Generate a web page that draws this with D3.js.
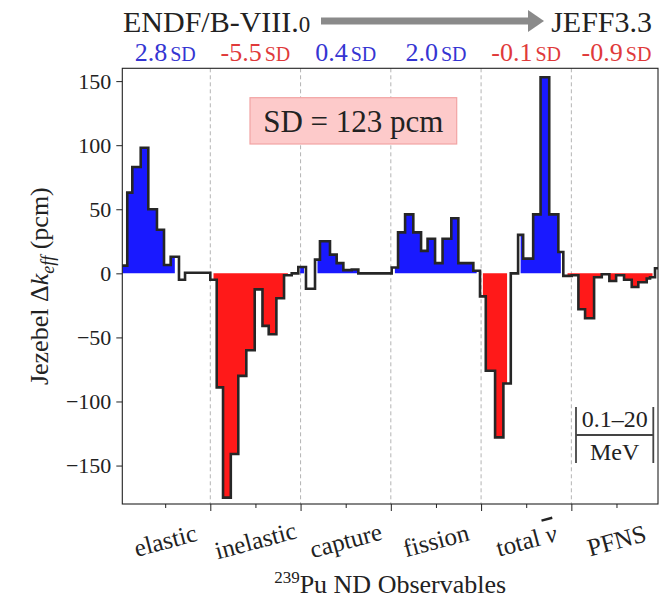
<!DOCTYPE html>
<html>
<head>
<meta charset="utf-8">
<script src="https://cdn.jsdelivr.net/npm/d3@7"></script>
<style>
	body { margin: 0; background: #fff; }
</style>
</head>
<body>
<script>
	'use strict';

	// one x unit per observable
	var observables = ["elastic", "inelastic", "capture", "fission", "total", "PFNS"];
	var sdValues = [2.8, -5.5, 0.4, 2.0, -0.1, -0.9];
	var sdText = ["2.8", "-5.5", "0.4", "2.0", "-0.1", "-0.9"];
	var sdPcm = 123;
	var yTicks = [-150, -100, -50, 0, 50, 100, 150];

	// bin left edges (x units), last entry is the right edge of the final bin
	var binEdges = [
		-0.034, 0.080, 0.136, 0.229, 0.313, 0.409, 0.487, 0.561, 0.653, 0.720,                 // elastic
		1.000, 1.071, 1.141, 1.227, 1.310, 1.399, 1.492, 1.578, 1.647, 1.732, 1.817, 1.902,     // inelastic
		1.975, 2.016, 2.060, 2.160, 2.215, 2.326, 2.400, 2.474, 2.567, 2.615, 2.640,             // capture
		3.010, 3.080, 3.158, 3.249, 3.335, 3.407, 3.490, 3.573, 3.670, 3.748, 3.914,             // fission
		3.988, 4.052, 4.155, 4.247, 4.329, 4.410, 4.466, 4.577, 4.659, 4.755, 4.856, 4.911,      // total nu
		5.004, 5.078, 5.152, 5.252, 5.337, 5.421, 5.496, 5.584, 5.669, 5.742, 5.835, 5.872, 5.927, // PFNS
		5.990
	];
	// delta k_eff per bin (pcm)
	var binValues = [
		6, 63, 83, 98, 50, 34, 6.5, 13, -5, 0.5,
		-5, -89, -175, -141, -80, -60, -12.5, -41, -47.5, -19.5, -1.5, 0,
		5, 5, -12, 10.7, 25, 14.6, 8, 2.5, 3, 3, 0,
		4.5, 32, 46, 32, 17.5, 27, 8, 27, 43, 8, 2,
		-18, -76, -128, -86, 0, 30, 11.5, 46, 153, 46, 16.7, -2,
		-1.5, -28, -35, -3, -0.7, -6, -1.5, -5, -10.7, -7, -4, -3, 4
	];

	var FONT = "'Liberation Serif', serif";
	var W = 662, H = 599;
	var margin = { top: 68.3, right: 4, bottom: 95, left: 122.3 },
		width = W - margin.left - margin.right,
		height = H - margin.top - margin.bottom;

	var svg = d3.select("body").append("svg")
		.attr("width", W)
		.attr("height", H);

	var g = svg.append("g")
		.attr("transform", "translate(" + margin.left + "," + margin.top + ")");

	var x = d3.scaleLinear().domain([0.025, 5.96]).range([0, width]);
	var y = d3.scaleLinear().domain([-180, 160]).range([height, 0]);

	g.append("defs").append("clipPath").attr("id", "plotclip")
		.append("rect").attr("width", width).attr("height", height);

	var bins = binValues.map(function(v, i) { return { x0: binEdges[i], x1: binEdges[i + 1], v: v }; });

	//////////////////////////// section separators ////////////////////////////
	g.selectAll(".sep")
		.data(d3.range(1, observables.length))
		.enter().append("line")
		.attr("x1", d => x(d)).attr("x2", d => x(d))
		.attr("y1", 0).attr("y2", height)
		.attr("stroke", "#b4b4b4")
		.attr("stroke-width", 1)
		.attr("stroke-dasharray", "4,3");

	//////////////////////////// fills ////////////////////////////
	// contiguous runs of same-sign bins, filled from centre of first to centre of last bin
	function runs(sign) {
		var out = [], cur = null;
		bins.forEach(function(b) {
			if (Math.sign(b.v) === sign) {
				if (!cur) { cur = []; out.push(cur); }
				cur.push(b);
			} else cur = null;
		});
		return out;
	}
	function runPoints(run) {
		var pts = [{ x: (run[0].x0 + run[0].x1) / 2, v: run[0].v }];
		run.slice(1).forEach(function(b) { pts.push({ x: b.x0, v: b.v }); });
		var last = run[run.length - 1];
		pts.push({ x: (last.x0 + last.x1) / 2, v: last.v });
		return pts;
	}
	var area = d3.area()
		.curve(d3.curveStepAfter)
		.x(d => x(d.x))
		.y0(y(0))
		.y1(d => y(d.v));

	var fills = g.append("g").attr("clip-path", "url(#plotclip)");
	[[1, "#0000ff"], [-1, "#ff0000"]].forEach(function(s) {
		fills.selectAll(null)
			.data(runs(s[0]).map(runPoints))
			.enter().append("path")
			.attr("d", area)
			.attr("fill", s[1])
			.attr("fill-opacity", 0.9);
	});

	//////////////////////////// step line ////////////////////////////
	var linePts = bins.map(b => ({ x: b.x0, v: b.v }));
	linePts.push({ x: bins[bins.length - 1].x1, v: bins[bins.length - 1].v });
	g.append("path")
		.attr("clip-path", "url(#plotclip)")
		.attr("d", d3.line().curve(d3.curveStepAfter).x(d => x(d.x)).y(d => y(d.v))(linePts))
		.attr("fill", "none")
		.attr("stroke", "#262626")
		.attr("stroke-width", 2.6)
		.attr("stroke-linejoin", "miter");

	//////////////////////////// axes ////////////////////////////
	var yAxis = d3.axisLeft(y)
		.tickValues(yTicks)
		.tickSize(6)
		.tickPadding(5)
		.tickFormat(d => d < 0 ? "\u2212" + Math.abs(d) : d);
	var yAxisG = g.append("g").call(yAxis);
	yAxisG.select(".domain").remove();
	yAxisG.selectAll("text").attr("font-size", 22);
	yAxisG.selectAll("line").attr("stroke", "#222");

	var xMinor = g.append("g").attr("transform", "translate(0," + height + ")")
		.call(d3.axisBottom(x).tickValues(d3.range(observables.length).map(i => i + 0.5)).tickSize(4).tickFormat(""));
	var xMajor = g.append("g").attr("transform", "translate(0," + height + ")")
		.call(d3.axisBottom(x).tickValues(d3.range(1, observables.length)).tickSize(7).tickFormat(""));
	xMinor.select(".domain").remove();
	xMajor.select(".domain").remove();
	g.selectAll(".tick line").attr("stroke", "#222");

	// frame
	g.append("rect")
		.attr("width", width).attr("height", height)
		.attr("fill", "none").attr("stroke", "#222").attr("stroke-width", 1.1);

	// category labels
	var cat = g.selectAll(".cat")
		.data(observables)
		.enter().append("text")
		.attr("class", "cat")
		.attr("font-size", 25)
		.attr("text-anchor", "middle")
		.attr("dominant-baseline", "central")
		.attr("transform", (d, i) => "translate(" + x(i + 0.5) + "," + (height + 36) + ")rotate(-15)");
	cat.append("tspan").text(d => d === "total" ? "total " : d);
	cat.filter(d => d === "total").append("tspan")
		.attr("font-style", "italic")
		.style("text-decoration", "overline")
		.text("\u03BD");

	// x label
	var xl = g.append("text")
		.attr("x", width / 2).attr("y", height + 89)
		.attr("text-anchor", "middle")
		.attr("font-size", 26);
	xl.append("tspan").attr("font-size", 17).attr("dy", -10).text("239");
	xl.append("tspan").attr("dy", 10).text("Pu ND Observables");

	// y label
	var yl = svg.append("text")
		.attr("transform", "translate(48," + (margin.top + height / 2) + ")rotate(-90)")
		.attr("text-anchor", "middle")
		.attr("font-size", 26);
	yl.append("tspan").text("Jezebel \u0394");
	yl.append("tspan").attr("font-style", "italic").text("k");
	yl.append("tspan").attr("font-style", "italic").attr("font-size", 18).attr("dy", 6).text("eff");
	yl.append("tspan").attr("dy", -6).text(" (pcm)");

	//////////////////////////// header ////////////////////////////
	var hdr = svg.append("text").attr("x", 123).attr("y", 32).attr("font-size", 30);
	hdr.append("tspan").text("ENDF/B-VIII.");
	hdr.append("tspan").attr("font-size", 23).text("0");
	svg.append("text").attr("x", 652).attr("y", 32).attr("font-size", 30)
		.attr("text-anchor", "end").text("JEFF3.3");
	svg.append("line")
		.attr("x1", 321).attr("x2", 530).attr("y1", 21).attr("y2", 21)
		.attr("stroke", "#8a8a8a").attr("stroke-width", 7);
	svg.append("path")
		.attr("d", "M528,10L544,21L528,32Z")
		.attr("fill", "#8a8a8a");

	// SD per observable
	var sd = svg.selectAll(".sd")
		.data(sdValues)
		.enter().append("text")
		.attr("class", "sd")
		.attr("x", (d, i) => margin.left + x(i + 0.5))
		.attr("y", 61)
		.attr("text-anchor", "middle")
		.attr("fill", d => d >= 0 ? "#3535d2" : "#e03a3a");
	sd.append("tspan").attr("font-size", 26).text((d, i) => sdText[i]);
	sd.append("tspan").attr("font-size", 20).attr("dx", 3).text("SD");

	// SD box
	svg.append("rect")
		.attr("x", 250).attr("y", 97.7).attr("width", 206.7).attr("height", 46.3)
		.attr("fill", "#fdcaca").attr("stroke", "#f2a3a3").attr("stroke-width", 1.2);
	svg.append("text")
		.attr("x", 353.3).attr("y", 131.5).attr("text-anchor", "middle").attr("font-size", 31)
		.text("SD = " + sdPcm + " pcm");

	// energy range annotation
	var ann = svg.append("g").attr("stroke", "#444").attr("stroke-width", 1.8);
	ann.append("line").attr("x1", 576).attr("x2", 576).attr("y1", 407).attr("y2", 463);
	ann.append("line").attr("x1", 653.3).attr("x2", 653.3).attr("y1", 407).attr("y2", 463);
	ann.append("line").attr("x1", 576).attr("x2", 653.3).attr("y1", 435).attr("y2", 435);
	svg.append("text").attr("x", 614.7).attr("y", 427).attr("text-anchor", "middle")
		.attr("font-size", 24).text("0.1\u201320");
	svg.append("text").attr("x", 614.7).attr("y", 460).attr("text-anchor", "middle")
		.attr("font-size", 24).text("MeV");

	// serif face and dark ink on every label
	svg.selectAll("text").style("font-family", FONT);
	svg.selectAll("text:not(.sd)").style("fill", "#222");
</script>
</body>
</html>
